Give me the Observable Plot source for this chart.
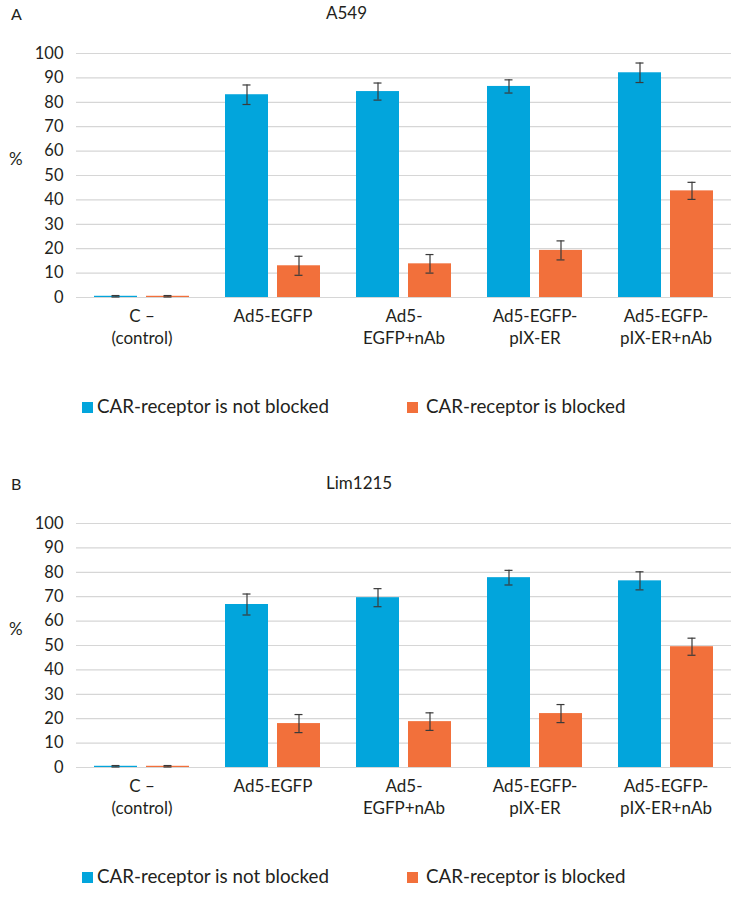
<!DOCTYPE html>
<html>
<head>
<meta charset="utf-8">
<script src="https://cdn.jsdelivr.net/npm/d3@7"></script>
<script src="https://cdn.jsdelivr.net/npm/@observablehq/plot@0.6"></script>
<style>
  html, body { margin: 0; padding: 0; background: #fff; }
  #root { position: relative; width: 740px; height: 898px; font-family: Lato, "Open Sans", sans-serif; color: #231f20; }
  .abs { position: absolute; white-space: nowrap; line-height: 1; }
  .sq { position: absolute; width: 11px; height: 11px; }
</style>
</head>
<body>
<div id="root"></div>
<script>
// ---- data ----
const categories = ["C –\n(control)", "Ad5-EGFP", "Ad5-\nEGFP+nAb", "Ad5-EGFP-\npIX-ER", "Ad5-EGFP-\npIX-ER+nAb"];
const seriesNames = ["CAR-receptor is not blocked", "CAR-receptor is blocked"];
const yTicks = [0, 10, 20, 30, 40, 50, 60, 70, 80, 90, 100];

const a549NotBlocked    = [0.5, 83.1, 84.4, 86.5, 92.1];
const a549NotBlockedErr = [0.3, 4.0, 3.5, 2.7, 4.0];
const a549Blocked       = [0.5, 13.0, 13.8, 19.3, 43.7];
const a549BlockedErr    = [0.3, 3.9, 3.8, 3.9, 3.5];

const limNotBlocked     = [0.5, 66.8, 69.6, 77.8, 76.5];
const limNotBlockedErr  = [0.3, 4.3, 3.7, 3.0, 3.7];
const limBlocked        = [0.5, 18.0, 18.8, 22.1, 49.5];
const limBlockedErr     = [0.3, 3.7, 3.6, 3.7, 3.5];

const colors = ["#02a5dc", "#f2703b"];
const ink = "#231f20";

function rows(nb, nbE, b, bE) {
  const out = [];
  categories.forEach((c, i) => {
    out.push({cat: c, series: seriesNames[0], value: nb[i], err: nbE[i]});
    out.push({cat: c, series: seriesNames[1], value: b[i], err: bE[i]});
  });
  return out;
}

function chart(data) {
  return Plot.plot({
    width: 740,
    height: 330,
    marginTop: 23,
    marginBottom: 63,
    marginLeft: 76,
    marginRight: 9,
    style: {fontFamily: "Lato, 'Open Sans', sans-serif", color: ink, background: "transparent", overflow: "visible"},
    fx: {domain: categories, padding: 0, axis: null},
    x: {domain: seriesNames, paddingInner: 0.173, paddingOuter: 0.346, axis: null},
    y: {domain: [0, 100]},
    color: {domain: seriesNames, range: colors},
    marks: [
      Plot.gridY(yTicks, {stroke: "#d6d6d6", strokeOpacity: 1, strokeWidth: 1.2}),
      Plot.barY(data, {fx: "cat", x: "series", y: "value", fill: "series"}),
      Plot.ruleX(data, {fx: "cat", x: "series", y1: d => d.value - d.err, y2: d => d.value + d.err, stroke: "#3a3a3a", strokeWidth: 1.2}),
      Plot.tickY(data, {fx: "cat", x: "series", y: d => d.value + d.err, stroke: "#3a3a3a", strokeWidth: 1.2, insetLeft: 17.5, insetRight: 17.5}),
      Plot.tickY(data, {fx: "cat", x: "series", y: d => d.value - d.err, stroke: "#3a3a3a", strokeWidth: 1.2, insetLeft: 17.5, insetRight: 17.5}),
      Plot.axisY({ticks: yTicks, tickSize: 0, tickPadding: 13, fontSize: 16.5, label: null, fill: ink}),
      Plot.axisFx({anchor: "bottom", tickSize: 0, tickPadding: 9, fontSize: 17, lineHeight: 1.3, label: null, fill: ink})
    ]
  });
}

const root = document.getElementById("root");
function addText(txt, left, top, size, extra) {
  const d = document.createElement("div");
  d.className = "abs";
  d.textContent = txt;
  d.style.left = left + "px";
  d.style.top = top + "px";
  d.style.fontSize = size + "px";
  if (extra) Object.assign(d.style, extra);
  root.appendChild(d);
  return d;
}
function addSquare(left, top, color) {
  const s = document.createElement("div");
  s.className = "sq";
  s.style.left = left + "px";
  s.style.top = top + "px";
  s.style.background = color;
  root.appendChild(s);
}

function panel(letter, title, data, offset) {
  addText(letter, 11, offset + 6, 16);
  addText(title, 326, offset + 4, 17);
  const svg = chart(data);
  const wrap = document.createElement("div");
  wrap.style.position = "absolute";
  wrap.style.left = "0px";
  wrap.style.top = (offset + 30) + "px";
  wrap.appendChild(svg);
  root.appendChild(wrap);
  addText("%", 9, offset + 150, 17);
  // legend
  addSquare(82, offset + 402, colors[0]);
  addText(seriesNames[0], 97, offset + 397, 18.8);
  addSquare(407, offset + 402, colors[1]);
  addText(seriesNames[1], 426, offset + 397, 18.8);
}

panel("A", "A549", rows(a549NotBlocked, a549NotBlockedErr, a549Blocked, a549BlockedErr), 0);
panel("B", "Lim1215", rows(limNotBlocked, limNotBlockedErr, limBlocked, limBlockedErr), 470);
</script>
</body>
</html>
